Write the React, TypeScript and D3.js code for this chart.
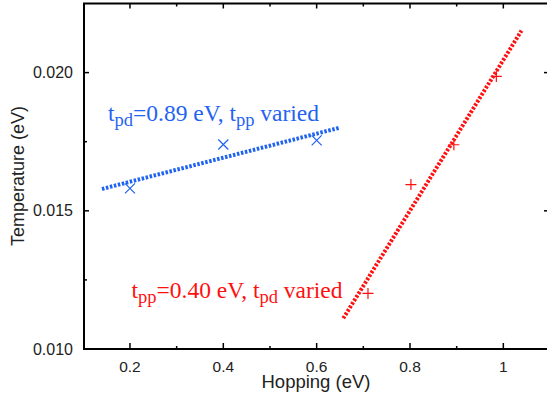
import React from "react";
import * as d3 from "d3";

const blueX = [0.2, 0.4, 0.6];
const blueY = [0.01581, 0.0174, 0.01755];
const blueFitX = [0.14, 0.65];
const blueFitY = [0.01579, 0.01801];

const redX = [0.71, 0.802, 0.894, 0.985];
const redY = [0.01201, 0.01595, 0.01739, 0.01986];
const redFitX = [0.657, 1.039];
const redFitY = [0.01111, 0.02152];

const xMajor = [0.2, 0.4, 0.6, 0.8, 1.0];
const xMinor = [0.3, 0.5, 0.7, 0.9];
const xLabels = ["0.2", "0.4", "0.6", "0.8", "1"];
const yMajor = [0.01, 0.015, 0.02];
const yMinor = [0.0125, 0.0175];
const yLabels = ["0.010", "0.015", "0.020"];

const BLUE = "#1f63f2";
const RED = "#ff1010";
const INK = "#222";

export default function App() {
  const W = 547, H = 398;
  const left = 84, right = 550, top = 3.5, bottom = 349;
  const x = d3.scaleLinear().domain([0.1, 1.1]).range([left - 0.7, right]);
  const y = d3.scaleLinear().domain([0.01, 0.0225]).range([bottom, top]);
  const line = d3.line<[number, number]>().x(d => x(d[0])).y(d => y(d[1]));
  const blueFit: [number, number][] = blueFitX.map((v, i) => [v, blueFitY[i]]);
  const redFit: [number, number][] = redFitX.map((v, i) => [v, redFitY[i]]);
  const sans = "'Liberation Sans', Arial, Helvetica, sans-serif";
  const serif = "'Liberation Serif', 'Times New Roman', serif";
  const maj = 6, mn = 3;
  return (
    <svg width={W} height={H} style={{ position: "absolute", left: 0, top: 0, background: "#fff" }}>
      <rect x={left} y={top} width={right - left} height={bottom - top} fill="none" stroke="#000" strokeWidth={2} />
      {xMajor.map(v => (
        <g key={"xm" + v}>
          <line x1={x(v)} x2={x(v)} y1={bottom} y2={bottom - maj} stroke="#000" strokeWidth={1.5} />
          <line x1={x(v)} x2={x(v)} y1={top} y2={top + maj - 1} stroke="#000" strokeWidth={1.5} />
        </g>
      ))}
      {xMinor.map(v => (
        <g key={"xn" + v}>
          <line x1={x(v)} x2={x(v)} y1={bottom} y2={bottom - mn} stroke="#000" strokeWidth={1.5} />
          <line x1={x(v)} x2={x(v)} y1={top} y2={top + mn} stroke="#000" strokeWidth={1.5} />
        </g>
      ))}
      {yMajor.map(v => (
        <g key={"ym" + v}>
          <line x1={left} x2={left + maj - 1} y1={y(v)} y2={y(v)} stroke="#000" strokeWidth={1.5} />
          <line x1={right} x2={right - maj} y1={y(v)} y2={y(v)} stroke="#000" strokeWidth={1.5} />
        </g>
      ))}
      {yMinor.map(v => (
        <g key={"yn" + v}>
          <line x1={left} x2={left + mn} y1={y(v)} y2={y(v)} stroke="#000" strokeWidth={1.5} />
          <line x1={right} x2={right - mn} y1={y(v)} y2={y(v)} stroke="#000" strokeWidth={1.5} />
        </g>
      ))}
      {xMajor.map((v, i) => (
        <text key={"xl" + v} x={x(v)} y={371.5} textAnchor="middle" fontFamily={sans} fontSize={15.5} fill={INK}>{xLabels[i]}</text>
      ))}
      {yMajor.map((v, i) => (
        <text key={"yl" + v} x={73} y={y(v) + 5.5} textAnchor="end" fontFamily={sans} fontSize={16} fill={INK}>{yLabels[i]}</text>
      ))}
      <text x={316} y={388} textAnchor="middle" fontFamily={sans} fontSize={18.5} fill={INK}>Hopping (eV)</text>
      <text transform="translate(23.5,176) rotate(-90)" textAnchor="middle" fontFamily={sans} fontSize={18} fill={INK}>Temperature (eV)</text>
      <path d={line(blueFit) || ""} fill="none" stroke={BLUE} strokeWidth={4} strokeDasharray="2.5 1.6" />
      <path d={line(redFit) || ""} fill="none" stroke={RED} strokeWidth={4} strokeDasharray="2.5 1.6" />
      {blueX.map((v, i) => {
        const cx = x(v), cy = y(blueY[i]), s = 5;
        return (
          <path key={"b" + i} d={`M${cx - s},${cy - s}L${cx + s},${cy + s}M${cx - s},${cy + s}L${cx + s},${cy - s}`} stroke={BLUE} strokeWidth={1.2} fill="none" />
        );
      })}
      {redX.map((v, i) => {
        const cx = x(v), cy = y(redY[i]), s = 5.5;
        return (
          <path key={"r" + i} d={`M${cx - s},${cy}L${cx + s},${cy}M${cx},${cy - s}L${cx},${cy + s}`} stroke={RED} strokeWidth={1.2} fill="none" />
        );
      })}
      <text x={108} y={120.5} fontFamily={serif} fontSize={23.5} fill={BLUE}>
        t<tspan fontSize={18.5} dy={5}>pd</tspan><tspan dy={-5}>=0.89 eV, t</tspan><tspan fontSize={18.5} dy={5}>pp</tspan><tspan dy={-5}> varied</tspan>
      </text>
      <text x={131.5} y={297.5} fontFamily={serif} fontSize={23.5} fill={RED}>
        t<tspan fontSize={18.5} dy={5}>pp</tspan><tspan dy={-5}>=0.40 eV, t</tspan><tspan fontSize={18.5} dy={5}>pd</tspan><tspan dy={-5}> varied</tspan>
      </text>
    </svg>
  );
}
